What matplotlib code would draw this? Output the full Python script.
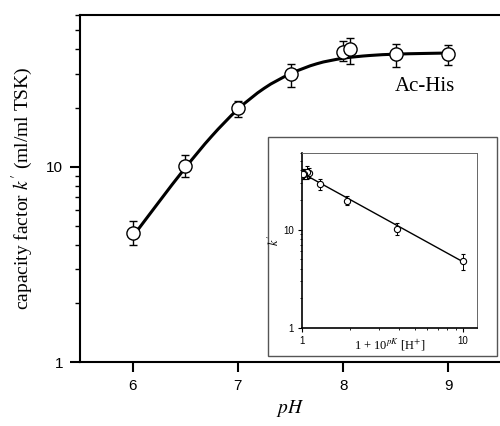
import matplotlib
matplotlib.use("Agg")
import matplotlib.pyplot as plt
from matplotlib.patches import Rectangle, PathPatch
from matplotlib.path import Path
from matplotlib.ticker import LogLocator, NullFormatter, FixedLocator, FixedFormatter
import numpy as np

plt.rcParams['mathtext.fontset'] = 'stix'
plt.rcParams['font.family'] = ['Liberation Serif', 'DejaVu Serif']

# ---- main panel data ----
ph = [6.0, 6.5, 7.0, 7.5, 8.0, 8.07, 8.5, 9.0]
k_main = [4.6, 10.1, 20.0, 30.0, 39.0, 40.0, 37.7, 37.7]
k_lo = [3.96, 8.9, 18.0, 25.6, 34.8, 33.8, 32.3, 33.1]
k_hi = [5.25, 11.5, 21.7, 33.8, 44.4, 46.0, 42.8, 42.3]

# fitted curve
curve_ph = [6.0, 6.25, 6.5, 6.75, 7.0, 7.25, 7.5, 7.75, 8.0, 8.25, 8.5, 8.75, 9.0]
curve_k = [4.38, 6.61, 9.88, 14.33, 19.72, 25.27, 29.99, 33.75, 36.0, 37.2, 37.8, 38.1, 38.3]

# ---- inset data ----
inset_x = [10.0, 3.9, 1.9, 1.3, 1.1, 1.08, 1.03, 1.01]
inset_k = [4.75, 10.2, 19.6, 29.0, 37.5, 38.5, 36.8, 36.8]
inset_lo = [3.9, 8.9, 17.6, 25.5, 33.5, 33.0, 32.5, 32.5]
inset_hi = [5.6, 11.6, 21.8, 33.0, 42.0, 44.0, 41.5, 41.5]
fit_x = [1.0, 10.0]
fit_k = [37.5, 4.7]

W, H = 500, 426
fig = plt.figure(figsize=(5.0, 4.26), dpi=100)

def fx(px):
    return px / W

def fy(py):
    return 1 - py / H

# main axes: x 80..501, y 15..362
ax = fig.add_axes([fx(80), fy(362), fx(501) - fx(80), fy(15) - fy(362)])
ax.set_yscale('log')
ax.set_xlim(5.5, 9.5)
ax.set_ylim(1, 60)

# smooth curve through the read points (Catmull-Rom as cubic Bezier, in x/log-y space)
px_ = np.array(curve_ph, float)
ly_ = np.log10(np.array(curve_k, float))
n = len(px_)
verts = [(px_[0], curve_k[0])]
codes = [Path.MOVETO]
for i in range(n - 1):
    p0 = max(i - 1, 0)
    p3 = min(i + 2, n - 1)
    c1x = px_[i] + (px_[i + 1] - px_[p0]) / 6.0
    c1y = ly_[i] + (ly_[i + 1] - ly_[p0]) / 6.0
    c2x = px_[i + 1] - (px_[p3] - px_[i]) / 6.0
    c2y = ly_[i + 1] - (ly_[p3] - ly_[i]) / 6.0
    verts += [(c1x, 10 ** c1y), (c2x, 10 ** c2y), (px_[i + 1], curve_k[i + 1])]
    codes += [Path.CURVE4] * 3
ax.add_patch(PathPatch(Path(verts, codes), fill=False, edgecolor='black', lw=2.2,
                       capstyle='round', zorder=2))

yerr = [np.array(k_main) - np.array(k_lo), np.array(k_hi) - np.array(k_main)]
ax.errorbar(ph, k_main, yerr=yerr, fmt='o', ms=9.5, mfc='white', mec='black',
            mew=1.0, ecolor='black', elinewidth=1.0, capsize=3, capthick=1.0, zorder=3)

ax.set_xticks([6, 7, 8, 9])
ax.set_xticklabels(['6', '7', '8', '9'])
ax.set_yticks([1, 10])
ax.set_yticklabels(['1', '10'])
ax.yaxis.set_minor_locator(LogLocator(base=10, subs=np.arange(2, 10)))
ax.yaxis.set_minor_formatter(NullFormatter())
ax.tick_params(axis='both', which='major', direction='out', length=7, width=1.5,
               labelsize=11, labelfontfamily='Liberation Sans', pad=5)
ax.tick_params(axis='y', which='minor', direction='out', length=3.5, width=1.0)
for s in ['left', 'bottom', 'top']:
    ax.spines[s].set_linewidth(1.5)
ax.spines['right'].set_visible(False)

ax.set_xlabel('$pH$', fontsize=14, labelpad=4)
ax.set_ylabel("capacity factor $k'$ (ml/ml TSK)", fontsize=14, labelpad=8)
ax.text(8.78, 10 ** ((362 - 87) / 195.0), 'Ac-His', fontsize=15,
        ha='center', va='center')

# outer frame of inset
fig.patches.append(Rectangle((fx(268), fy(356)), fx(497) - fx(268), fy(137) - fy(356),
                             transform=fig.transFigure, fill=True, facecolor='white',
                             edgecolor='#555555', lw=1.0, zorder=5))

# inset axes: x 302..477, y 153..328
ai = fig.add_axes([fx(302), fy(328), fx(477) - fx(302), fy(153) - fy(328)], zorder=6)
ai.set_xscale('log')
ai.set_yscale('log')
ai.set_xlim(1, 12.2)
ai.set_ylim(1, 60)
ai.plot(fit_x, fit_k, color='black', lw=1.0, zorder=2)
ierr = [np.array(inset_k) - np.array(inset_lo), np.array(inset_hi) - np.array(inset_k)]
ai.errorbar(inset_x, inset_k, yerr=ierr, fmt='o', ms=4.5, mfc='white', mec='black',
            mew=0.8, ecolor='black', elinewidth=0.7, capsize=1.2, capthick=0.7, zorder=3)
ai.xaxis.set_major_locator(FixedLocator([1, 10]))
ai.xaxis.set_major_formatter(FixedFormatter(['1', '10']))
ai.yaxis.set_major_locator(FixedLocator([1, 10]))
ai.yaxis.set_major_formatter(FixedFormatter(['1', '10']))
ai.xaxis.set_minor_locator(LogLocator(base=10, subs=np.arange(2, 10)))
ai.yaxis.set_minor_locator(LogLocator(base=10, subs=np.arange(2, 10)))
ai.xaxis.set_minor_formatter(NullFormatter())
ai.yaxis.set_minor_formatter(NullFormatter())
ai.tick_params(which='major', direction='out', length=3, width=0.8,
               labelsize=7, labelfontfamily='Liberation Sans', pad=3)
ai.tick_params(which='minor', direction='out', length=1.5, width=0.6)
ai.spines['left'].set_linewidth(1.2)
ai.spines['bottom'].set_linewidth(1.2)
for s in ['top', 'right']:
    ai.spines[s].set_linewidth(0.7)
    ai.spines[s].set_color('#666666')
ai.set_xlabel('1 + 10$^{pK}$ [H$^{+}$]', fontsize=9)
ai.xaxis.set_label_coords(0.5, -0.095)
ai.xaxis.label.set_va('center')
ai.set_ylabel("$k'$", fontsize=9, labelpad=1)

fig.savefig('out.png', dpi=100)
